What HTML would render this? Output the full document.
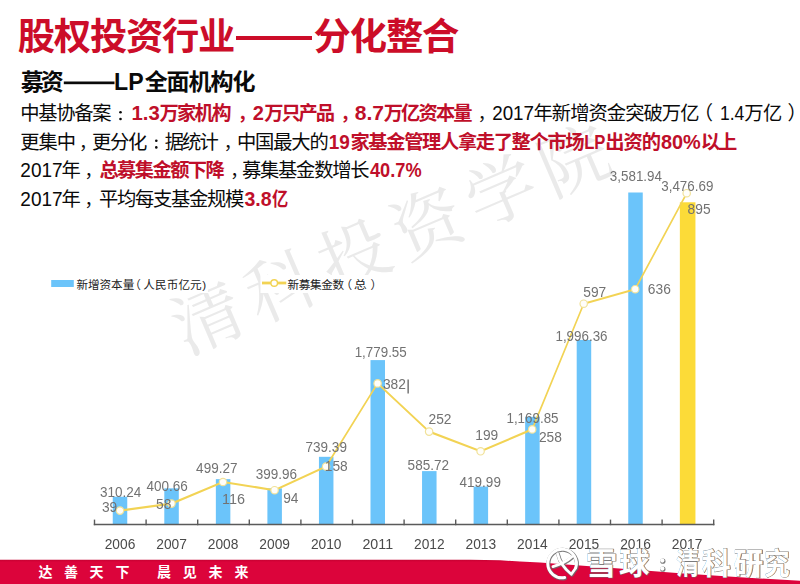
<!DOCTYPE html>
<html lang="zh"><head><meta charset="utf-8"><title>股权投资行业——分化整合</title>
<style>
html,body{margin:0;padding:0;background:#fff;}
body{width:800px;height:584px;overflow:hidden;font-family:"Liberation Sans",sans-serif;}
svg{display:block;font-family:"Liberation Sans","Noto Sans CJK SC",sans-serif;}
</style></head><body>
<svg width="800" height="584" viewBox="0 0 800 584" role="img">
<desc>股权投资行业——分化整合。募资——LP全面机构化。中基协备案：1.3万家机构，2万只产品，8.7万亿资本量，2017年新增资金突破万亿（1.4万亿）。更集中，更分化：据统计，中国最大的19家基金管理人拿走了整个市场LP出资的80%以上。2017年，总募集金额下降，募集基金数增长40.7%。2017年，平均每支基金规模3.8亿。新增资本量（人民币亿元） 新募集金数（总）。达善天下 晨见未来。雪球：清科研究</desc>
<defs><linearGradient id="band" gradientUnits="userSpaceOnUse" x1="0" y1="559.7" x2="0" y2="584"><stop offset="0" stop-color="#c60031"/><stop offset="0.1" stop-color="#dc043b"/><stop offset="1" stop-color="#dc043b"/></linearGradient>
<filter id="idf" x="0" y="0" width="800" height="584" filterUnits="userSpaceOnUse" color-interpolation-filters="sRGB"><feOffset dx="0" dy="0"/></filter>
<filter id="glow" x="-50%" y="-50%" width="200%" height="200%"><feGaussianBlur stdDeviation="1.2"/></filter></defs>
<rect width="800" height="584" fill="#fff"/>
<text transform="translate(207 317) rotate(-23.3)" x="-35" y="26.6" font-size="70" fill="#eaeaea" font-family="'Liberation Serif','Noto Serif CJK SC',serif" textLength="469.5" lengthAdjust="spacing">清科投资学院</text>
<rect x="46" y="275" width="162" height="18" fill="#fff"/><rect x="260.5" y="275" width="140" height="18" fill="#fff"/>
<g font-family="'Liberation Sans','Noto Sans CJK SC',sans-serif">
<text x="17.79" y="50.40" font-size="37.3" font-weight="bold" fill="#cc0d29" textLength="217.6" lengthAdjust="spacing">股权投资行业</text>
<rect x="236" y="36" width="76" height="4" fill="#cc0d29"/>
<text x="313.61" y="50.40" font-size="37.3" font-weight="bold" fill="#cc0d29" textLength="145.8" lengthAdjust="spacing">分化整合</text>
<text x="20.74" y="89.90" font-size="23" font-weight="bold" fill="#0a0a0a" textLength="43" lengthAdjust="spacing">募资</text>
<rect x="63.8" y="81.5" width="50.7" height="2.7" fill="#0a0a0a"/>
<text x="114.14" y="89.90" font-size="23" font-weight="bold" fill="#0a0a0a" textLength="29.5" lengthAdjust="spacingAndGlyphs">LP</text>
<text x="144.63" y="89.90" font-size="23" font-weight="bold" fill="#0a0a0a" textLength="110.8" lengthAdjust="spacing">全面机构化</text>
<text x="20.15" y="120.30" font-size="19.3" fill="#0a0a0a" textLength="91.4" lengthAdjust="spacing">中基协备案</text>
<circle cx="120.5" cy="112.30" r="1.3" fill="#0a0a0a"/><circle cx="120.5" cy="119.00" r="1.3" fill="#0a0a0a"/>
<text x="131.43" y="120.30" font-size="20" font-weight="bold" fill="#bf0f2a" textLength="28.3" lengthAdjust="spacingAndGlyphs">1.3</text>
<text x="159.43" y="120.30" font-size="19.3" font-weight="bold" fill="#bf0f2a" textLength="72.07" lengthAdjust="spacing">万家机构</text>
<text x="237.73" y="120.30" font-size="17.76" font-weight="bold" fill="#bf0f2a">，</text>
<text x="252.73" y="120.30" font-size="20" font-weight="bold" fill="#bf0f2a">2</text>
<text x="264.33" y="120.30" font-size="19.3" font-weight="bold" fill="#bf0f2a" textLength="70.7" lengthAdjust="spacing">万只产品</text>
<text x="340.53" y="120.30" font-size="17.76" font-weight="bold" fill="#bf0f2a">，</text>
<text x="354.78" y="120.30" font-size="20" font-weight="bold" fill="#bf0f2a" textLength="29.3" lengthAdjust="spacingAndGlyphs">8.7</text>
<text x="383.63" y="120.30" font-size="19.3" font-weight="bold" fill="#bf0f2a" textLength="88.96" lengthAdjust="spacing">万亿资本量</text>
<text x="477.87" y="120.30" font-size="17.76" fill="#0a0a0a">，</text>
<text x="492.21" y="120.30" font-size="20" fill="#0a0a0a" textLength="41.8" lengthAdjust="spacingAndGlyphs">2017</text>
<text x="533.47" y="120.30" font-size="19.3" fill="#0a0a0a" textLength="166.0" lengthAdjust="spacing">年新增资金突破万亿</text>
<text x="693.69" y="120.30" font-size="19.3" fill="#0a0a0a">（</text>
<text x="719.91" y="120.30" font-size="20" fill="#0a0a0a" textLength="24.4" lengthAdjust="spacingAndGlyphs">1.4</text>
<text x="744.34" y="120.30" font-size="19.3" fill="#0a0a0a" textLength="37.85" lengthAdjust="spacing">万亿</text>
<text x="787.61" y="120.30" font-size="19.3" fill="#0a0a0a">）</text>
<text x="20.34" y="148.70" font-size="19.3" fill="#0a0a0a" textLength="55.65" lengthAdjust="spacing">更集中</text>
<text x="78.97" y="148.70" font-size="17.76" fill="#0a0a0a">，</text>
<text x="91.89" y="148.70" font-size="19.3" fill="#0a0a0a" textLength="55.44" lengthAdjust="spacing">更分化</text>
<circle cx="156.3" cy="140.70" r="1.3" fill="#0a0a0a"/><circle cx="156.3" cy="147.40" r="1.3" fill="#0a0a0a"/>
<text x="164.74" y="148.70" font-size="19.3" fill="#0a0a0a" textLength="53.95" lengthAdjust="spacing">据统计</text>
<text x="223.67" y="148.70" font-size="17.76" fill="#0a0a0a">，</text>
<text x="236.95" y="148.70" font-size="19.3" fill="#0a0a0a" textLength="91.8" lengthAdjust="spacing">中国最大的</text>
<text x="328.81" y="148.70" font-size="20" font-weight="bold" fill="#bf0f2a" textLength="21.1" lengthAdjust="spacingAndGlyphs">19</text>
<text x="350.43" y="148.70" font-size="19.3" font-weight="bold" fill="#bf0f2a" textLength="234.2" lengthAdjust="spacing">家基金管理人拿走了整个市场</text>
<text x="584.17" y="148.70" font-size="20" font-weight="bold" fill="#bf0f2a" textLength="21.3" lengthAdjust="spacingAndGlyphs">LP</text>
<text x="605.36" y="148.70" font-size="19.3" font-weight="bold" fill="#bf0f2a" textLength="55.6" lengthAdjust="spacing">出资的</text>
<text x="661.01" y="148.70" font-size="20" font-weight="bold" fill="#bf0f2a" textLength="39.8" lengthAdjust="spacingAndGlyphs">80%</text>
<text x="700.67" y="148.70" font-size="19.3" font-weight="bold" fill="#bf0f2a" textLength="36.54" lengthAdjust="spacing">以上</text>
<text x="20.35" y="177.10" font-size="20" fill="#0a0a0a" textLength="42.3" lengthAdjust="spacingAndGlyphs">2017</text>
<text x="61.57" y="177.10" font-size="19.3" fill="#0a0a0a">年</text>
<text x="84.62" y="177.10" font-size="17.76" fill="#0a0a0a">，</text>
<text x="99.40" y="177.10" font-size="19.3" font-weight="bold" fill="#bf0f2a" textLength="125.4" lengthAdjust="spacing">总募集金额下降</text>
<text x="230.37" y="177.10" font-size="17.76" fill="#0a0a0a">，</text>
<text x="242.06" y="177.10" font-size="19.3" fill="#0a0a0a" textLength="127.4" lengthAdjust="spacing">募集基金数增长</text>
<text x="369.99" y="177.10" font-size="20" font-weight="bold" fill="#bf0f2a" textLength="51.6" lengthAdjust="spacingAndGlyphs">40.7%</text>
<text x="20.35" y="205.70" font-size="20" fill="#0a0a0a" textLength="42.3" lengthAdjust="spacingAndGlyphs">2017</text>
<text x="61.57" y="205.70" font-size="19.3" fill="#0a0a0a">年</text>
<text x="84.62" y="205.70" font-size="17.76" fill="#0a0a0a">，</text>
<text x="99.00" y="205.70" font-size="19.3" fill="#0a0a0a" textLength="145.2" lengthAdjust="spacing">平均每支基金规模</text>
<text x="244.47" y="205.70" font-size="20" font-weight="bold" fill="#bf0f2a" textLength="27.2" lengthAdjust="spacingAndGlyphs">3.8</text>
<text x="271.91" y="205.70" font-size="19.3" font-weight="bold" fill="#bf0f2a" textLength="16.2" lengthAdjust="spacingAndGlyphs">亿</text>
<rect x="51.2" y="280" width="22.6" height="7" fill="#6bc4fa"/>
<text x="76.59" y="288.60" font-size="11.6" fill="#222" textLength="57.65" lengthAdjust="spacing">新增资本量</text>
<text x="129.31" y="288.60" font-size="11.6" fill="#222">（</text>
<text x="143.33" y="288.60" font-size="11.6" fill="#222" textLength="58.35" lengthAdjust="spacing">人民币亿元</text>
<text x="202.26" y="288.60" font-size="11.6" fill="#222">)</text>
<line x1="262" y1="283" x2="286.3" y2="283" stroke="#f2d354" stroke-width="2.8"/>
<circle cx="274.2" cy="283" r="3.3" fill="#fff" stroke="#f2d354" stroke-width="1.4"/>
<text x="287.59" y="288.60" font-size="11.6" fill="#222" textLength="56.44" lengthAdjust="spacing">新募集金数</text>
<text x="340.51" y="288.60" font-size="11.6" fill="#222">（</text>
<text x="354.02" y="288.60" font-size="11.6" fill="#222" textLength="12.66" lengthAdjust="spacingAndGlyphs">总</text>
<text x="370.39" y="288.60" font-size="11.6" fill="#222">）</text>
</g>
<rect x="112.75" y="496.73" width="14.50" height="27.87" fill="#6bc4fa"/>
<rect x="164.30" y="488.32" width="14.50" height="36.28" fill="#6bc4fa"/>
<rect x="215.85" y="479.15" width="14.50" height="45.45" fill="#6bc4fa"/>
<rect x="267.40" y="488.39" width="14.50" height="36.21" fill="#6bc4fa"/>
<rect x="318.95" y="456.82" width="14.50" height="67.78" fill="#6bc4fa"/>
<rect x="370.50" y="360.10" width="14.50" height="164.50" fill="#6bc4fa"/>
<rect x="422.05" y="471.11" width="14.50" height="53.49" fill="#6bc4fa"/>
<rect x="473.60" y="486.53" width="14.50" height="38.07" fill="#6bc4fa"/>
<rect x="525.15" y="416.80" width="14.50" height="107.80" fill="#6bc4fa"/>
<rect x="576.70" y="339.94" width="14.50" height="184.66" fill="#6bc4fa"/>
<rect x="628.25" y="192.50" width="14.50" height="332.10" fill="#6bc4fa"/>
<rect x="679.85" y="202.28" width="15.60" height="322.32" fill="#fcdb38"/>
<g stroke="#5a5a5a" stroke-width="1.4" fill="none"><line x1="93.8" y1="524.5" x2="714.4" y2="524.5"/><line x1="94.50" y1="519.6" x2="94.50" y2="525.2"/><line x1="146.10" y1="519.6" x2="146.10" y2="525.2"/><line x1="197.70" y1="519.6" x2="197.70" y2="525.2"/><line x1="249.30" y1="519.6" x2="249.30" y2="525.2"/><line x1="300.90" y1="519.6" x2="300.90" y2="525.2"/><line x1="352.50" y1="519.6" x2="352.50" y2="525.2"/><line x1="404.10" y1="519.6" x2="404.10" y2="525.2"/><line x1="455.70" y1="519.6" x2="455.70" y2="525.2"/><line x1="507.30" y1="519.6" x2="507.30" y2="525.2"/><line x1="558.90" y1="519.6" x2="558.90" y2="525.2"/><line x1="610.50" y1="519.6" x2="610.50" y2="525.2"/><line x1="662.10" y1="519.6" x2="662.10" y2="525.2"/><line x1="713.70" y1="519.6" x2="713.70" y2="525.2"/></g>
<polyline transform="scale(0.72 1)" points="166.7,510.6 238.2,503.6 309.8,482.0 381.3,490.2 452.9,466.5 524.4,383.4 596.0,431.6 667.6,451.3 739.1,429.4 810.7,303.7 882.2,289.2 953.8,193.2" fill="none" stroke="#f2d354" stroke-width="2.15" stroke-linejoin="round"/>
<circle cx="120.0" cy="510.6" r="3.7" fill="#fffefa" stroke="#f1e29a" stroke-width="1.2"/>
<circle cx="171.5" cy="503.6" r="3.7" fill="#fffefa" stroke="#f1e29a" stroke-width="1.2"/>
<circle cx="223.0" cy="482.0" r="3.7" fill="#fffefa" stroke="#f1e29a" stroke-width="1.2"/>
<circle cx="274.6" cy="490.2" r="3.7" fill="#fffefa" stroke="#f1e29a" stroke-width="1.2"/>
<circle cx="326.1" cy="466.5" r="3.7" fill="#fffefa" stroke="#f1e29a" stroke-width="1.2"/>
<circle cx="377.6" cy="383.4" r="3.7" fill="#fffefa" stroke="#f1e29a" stroke-width="1.2"/>
<circle cx="429.1" cy="431.6" r="3.7" fill="#fffefa" stroke="#f1e29a" stroke-width="1.2"/>
<circle cx="480.6" cy="451.3" r="3.7" fill="#fffefa" stroke="#f1e29a" stroke-width="1.2"/>
<circle cx="532.2" cy="429.4" r="3.7" fill="#fffefa" stroke="#f1e29a" stroke-width="1.2"/>
<circle cx="583.7" cy="303.7" r="3.7" fill="#fffefa" stroke="#f1e29a" stroke-width="1.2"/>
<circle cx="635.2" cy="289.2" r="3.7" fill="#fffefa" stroke="#f1e29a" stroke-width="1.2"/>
<circle cx="686.7" cy="193.2" r="3.7" fill="#fffefa" stroke="#f1e29a" stroke-width="1.2"/>
<g font-family="Liberation Sans, sans-serif" filter="url(#idf)">
<text x="99.95" y="496.80" font-size="14.1" fill="#727272" textLength="41.35" lengthAdjust="spacingAndGlyphs">310.24</text>
<text x="101.97" y="512.00" font-size="14.1" fill="#727272" textLength="15.31" lengthAdjust="spacingAndGlyphs">39</text>
<text x="146.45" y="490.60" font-size="14.1" fill="#727272" textLength="41.35" lengthAdjust="spacingAndGlyphs">400.66</text>
<text x="156.10" y="508.60" font-size="14.1" fill="#727272" textLength="15.31" lengthAdjust="spacingAndGlyphs">58</text>
<text x="196.12" y="473.00" font-size="14.1" fill="#727272" textLength="41.35" lengthAdjust="spacingAndGlyphs">499.27</text>
<text x="222.02" y="504.30" font-size="14.1" fill="#727272" textLength="22.96" lengthAdjust="spacingAndGlyphs">116</text>
<text x="255.72" y="478.50" font-size="14.1" fill="#727272" textLength="41.35" lengthAdjust="spacingAndGlyphs">399.96</text>
<text x="283.15" y="502.70" font-size="14.1" fill="#727272" textLength="15.31" lengthAdjust="spacingAndGlyphs">94</text>
<text x="305.57" y="452.30" font-size="14.1" fill="#727272" textLength="41.35" lengthAdjust="spacingAndGlyphs">739.39</text>
<text x="324.77" y="471.40" font-size="14.1" fill="#727272" textLength="22.96" lengthAdjust="spacingAndGlyphs">158</text>
<text x="354.66" y="356.70" font-size="14.1" fill="#727272" textLength="52.09" lengthAdjust="spacingAndGlyphs">1,779.55</text>
<text x="382.97" y="389.00" font-size="14.1" fill="#727272" textLength="22.96" lengthAdjust="spacingAndGlyphs">382</text>
<text x="407.62" y="470.40" font-size="14.1" fill="#727272" textLength="41.35" lengthAdjust="spacingAndGlyphs">585.72</text>
<text x="428.52" y="423.50" font-size="14.1" fill="#727272" textLength="22.96" lengthAdjust="spacingAndGlyphs">252</text>
<text x="459.57" y="486.50" font-size="14.1" fill="#727272" textLength="41.35" lengthAdjust="spacingAndGlyphs">419.99</text>
<text x="475.27" y="440.30" font-size="14.1" fill="#727272" textLength="22.96" lengthAdjust="spacingAndGlyphs">199</text>
<text x="506.46" y="423.20" font-size="14.1" fill="#727272" textLength="52.09" lengthAdjust="spacingAndGlyphs">1,169.85</text>
<text x="538.97" y="442.00" font-size="14.1" fill="#727272" textLength="22.96" lengthAdjust="spacingAndGlyphs">258</text>
<text x="555.46" y="341.40" font-size="14.1" fill="#727272" textLength="52.09" lengthAdjust="spacingAndGlyphs">1,996.36</text>
<text x="583.27" y="297.00" font-size="14.1" fill="#727272" textLength="22.96" lengthAdjust="spacingAndGlyphs">597</text>
<text x="609.86" y="180.80" font-size="14.1" fill="#727272" textLength="52.09" lengthAdjust="spacingAndGlyphs">3,581.94</text>
<text x="647.87" y="294.20" font-size="14.1" fill="#727272" textLength="22.96" lengthAdjust="spacingAndGlyphs">636</text>
<text x="661.26" y="190.80" font-size="14.1" fill="#727272" textLength="52.09" lengthAdjust="spacingAndGlyphs">3,476.69</text>
<text x="687.62" y="214.10" font-size="14.1" fill="#727272" textLength="22.96" lengthAdjust="spacingAndGlyphs">895</text>
<text x="104.69" y="548.90" font-size="14.4" fill="#4a4a4a" textLength="30.62" lengthAdjust="spacingAndGlyphs">2006</text>
<text x="156.24" y="548.90" font-size="14.4" fill="#4a4a4a" textLength="30.62" lengthAdjust="spacingAndGlyphs">2007</text>
<text x="207.79" y="548.90" font-size="14.4" fill="#4a4a4a" textLength="30.62" lengthAdjust="spacingAndGlyphs">2008</text>
<text x="259.34" y="548.90" font-size="14.4" fill="#4a4a4a" textLength="30.62" lengthAdjust="spacingAndGlyphs">2009</text>
<text x="310.89" y="548.90" font-size="14.4" fill="#4a4a4a" textLength="30.62" lengthAdjust="spacingAndGlyphs">2010</text>
<text x="362.44" y="548.90" font-size="14.4" fill="#4a4a4a" textLength="30.62" lengthAdjust="spacingAndGlyphs">2011</text>
<text x="413.99" y="548.90" font-size="14.4" fill="#4a4a4a" textLength="30.62" lengthAdjust="spacingAndGlyphs">2012</text>
<text x="465.54" y="548.90" font-size="14.4" fill="#4a4a4a" textLength="30.62" lengthAdjust="spacingAndGlyphs">2013</text>
<text x="517.09" y="548.90" font-size="14.4" fill="#4a4a4a" textLength="30.62" lengthAdjust="spacingAndGlyphs">2014</text>
<text x="568.64" y="548.90" font-size="14.4" fill="#4a4a4a" textLength="30.62" lengthAdjust="spacingAndGlyphs">2015</text>
<text x="620.19" y="548.90" font-size="14.4" fill="#4a4a4a" textLength="30.62" lengthAdjust="spacingAndGlyphs">2016</text>
<text x="671.74" y="548.90" font-size="14.4" fill="#4a4a4a" textLength="30.62" lengthAdjust="spacingAndGlyphs">2017</text>
</g>
<rect x="407.6" y="379.5" width="1" height="14" fill="#333"/>
<polygon points="0,559.7 470,559.7 500,560.3 520,561.5 540,562.4 600,567 680,573.3 740,577.3 800,580.8 800,584 0,584" fill="url(#band)"/>
<text x="38.38 64.09 89.54 115.59 157.08 182.83 208.61 234.40" y="576.50" font-size="14" font-weight="bold" fill="#fff" font-family="'Liberation Sans','Noto Sans CJK SC',sans-serif">达善天下晨见未来</text>
<g transform="translate(0.55 0.6)" opacity="0.9">
<g fill="none" stroke="#6e6e6e" stroke-linecap="round" stroke-linejoin="round">
<path d="M564.6 577.6 A14.3 14.3 0 1 1 575.7 567.9" stroke-width="4.0"/>
<path d="M557.6 553.9 Q560 565 571.3 574.3 L575.7 567.9" stroke-width="3.7"/>
<path d="M571.9 556.8 Q565 563.2 552.9 566.6" stroke-width="3.7"/>
</g>
<g font-family="'Liberation Sans','Noto Sans CJK SC',sans-serif" font-size="30" font-weight="bold" fill="#6e6e6e" stroke="#6e6e6e" stroke-width="1" stroke-linejoin="round">
<text x="585.43" y="573.60" textLength="31.7" lengthAdjust="spacingAndGlyphs">雪</text>
<text x="618.96" y="573.60" textLength="30.5" lengthAdjust="spacingAndGlyphs">球</text>
<text x="675.91" y="573.60" textLength="23.5" lengthAdjust="spacingAndGlyphs">清</text>
<text x="701.82" y="573.60" textLength="28.9" lengthAdjust="spacingAndGlyphs">科</text>
<text x="733.34" y="573.60" textLength="29.96" lengthAdjust="spacingAndGlyphs">研</text>
<text x="764.00" y="573.60" textLength="25.67" lengthAdjust="spacingAndGlyphs">究</text>
</g>
<circle cx="662.3" cy="560.6" r="2.6" fill="#6e6e6e"/><circle cx="662.3" cy="568.6" r="2.6" fill="#6e6e6e"/>
</g>
<g transform="translate(0 0)" >
<g fill="none" stroke="#fff" stroke-linecap="round" stroke-linejoin="round">
<path d="M564.6 577.6 A14.3 14.3 0 1 1 575.7 567.9" stroke-width="3"/>
<path d="M557.6 553.9 Q560 565 571.3 574.3 L575.7 567.9" stroke-width="2.7"/>
<path d="M571.9 556.8 Q565 563.2 552.9 566.6" stroke-width="2.7"/>
</g>
<g font-family="'Liberation Sans','Noto Sans CJK SC',sans-serif" font-size="30" font-weight="bold" fill="#fff">
<text x="585.43" y="573.60" textLength="31.7" lengthAdjust="spacingAndGlyphs">雪</text>
<text x="618.96" y="573.60" textLength="30.5" lengthAdjust="spacingAndGlyphs">球</text>
<text x="675.91" y="573.60" textLength="23.5" lengthAdjust="spacingAndGlyphs">清</text>
<text x="701.82" y="573.60" textLength="28.9" lengthAdjust="spacingAndGlyphs">科</text>
<text x="733.34" y="573.60" textLength="29.96" lengthAdjust="spacingAndGlyphs">研</text>
<text x="764.00" y="573.60" textLength="25.67" lengthAdjust="spacingAndGlyphs">究</text>
</g>
<circle cx="662.3" cy="560.6" r="2.1" fill="#fff"/><circle cx="662.3" cy="568.6" r="2.1" fill="#fff"/>
</g>
</svg>
</body></html>
